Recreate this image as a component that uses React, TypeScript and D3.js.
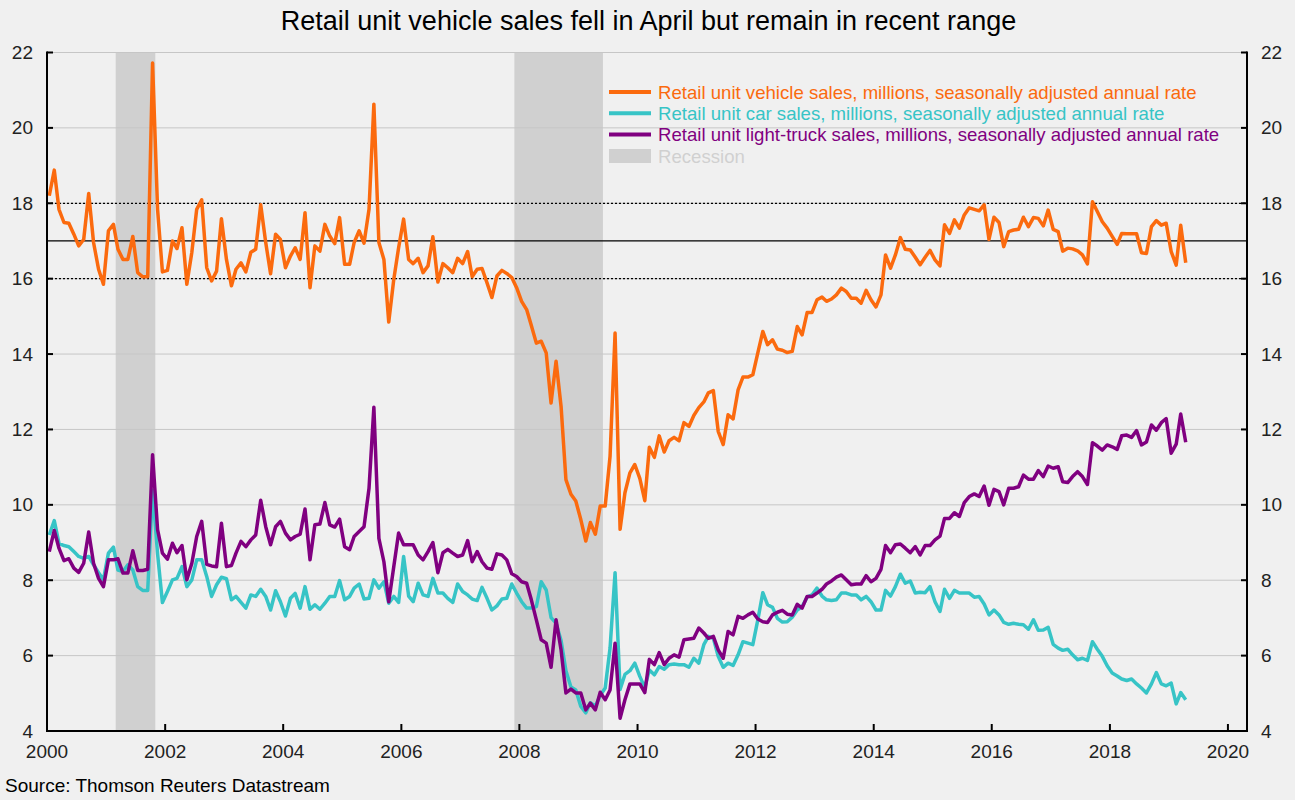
import React from "react";
import * as d3 from "d3";

// ---------- DATA (monthly, Jan 2000 – Apr 2019, millions SAAR) ----------
const START_YEAR = 2000;
const START_MONTH = 0;

const vehicleSales = [
  18.2, 18.88, 17.84, 17.49, 17.47, 17.18, 16.87, 17.04, 18.26, 16.96, 16.25, 15.85,
  17.27, 17.44, 16.78, 16.51, 16.51, 17.12, 16.16, 16.05, 16.05, 21.72, 17.84, 16.18,
  16.22, 17.0, 16.8, 17.35, 15.85, 16.7, 17.84, 18.09, 16.29, 15.94, 16.2, 17.59,
  16.51, 15.81, 16.25, 16.42, 16.18, 16.7, 16.78, 17.96, 16.96, 16.13, 17.18, 17.04,
  16.29, 16.6, 16.82, 16.51, 17.75, 15.76, 16.87, 16.73, 17.44, 17.13, 16.93, 17.62,
  16.38, 16.38, 16.96, 17.27, 16.94, 17.84, 20.63, 16.96, 16.51, 14.85, 15.98, 16.82,
  17.58, 16.51, 16.4, 16.54, 16.16, 16.34, 17.11, 15.91, 16.4, 16.29, 16.16, 16.54,
  16.4, 16.72, 16.05, 16.25, 16.27, 15.89, 15.5, 16.07, 16.22, 16.14, 16.03, 15.76,
  15.4, 15.18, 14.76, 14.29, 14.34, 14.03, 12.7, 13.81, 12.61, 10.67, 10.28, 10.1,
  9.61, 9.04, 9.53, 9.22, 9.97, 9.97, 11.29, 14.56, 9.35, 10.32, 10.85, 11.07,
  10.7, 10.11, 11.53, 11.26, 11.83, 11.4, 11.7, 11.79, 11.7, 12.18, 12.08, 12.37,
  12.58, 12.73, 12.97, 13.03, 11.95, 11.6, 12.39, 12.28, 13.05, 13.39, 13.39, 13.45,
  14.03, 14.6, 14.25, 14.38, 14.13, 14.1, 14.04, 14.07, 14.73, 14.51, 15.1, 15.1,
  15.44, 15.51, 15.4, 15.46, 15.57, 15.75, 15.66, 15.48, 15.48, 15.35, 15.69, 15.44,
  15.25, 15.57, 16.63, 16.28, 16.63, 17.09, 16.78, 16.76, 16.57, 16.37, 16.57, 16.75,
  16.5, 16.34, 17.43, 17.2, 17.56, 17.34, 17.69, 17.88, 17.84, 17.8, 17.96, 17.04,
  17.63, 17.49, 16.85, 17.25, 17.29, 17.31, 17.63, 17.38, 17.62, 17.6, 17.4, 17.82,
  17.31, 17.25, 16.73, 16.81, 16.79, 16.74, 16.63, 16.39, 18.04, 17.78, 17.51, 17.34,
  17.12, 16.91, 17.2, 17.19, 17.19, 17.19, 16.69, 16.67, 17.38, 17.54, 17.42, 17.47,
  16.72, 16.36, 17.42, 16.42,
];

const carSales = [
  9.2, 9.58, 8.98, 8.92, 8.89, 8.76, 8.63, 8.58, 8.63, 8.41, 8.2, 8.01,
  8.72, 8.88, 8.27, 8.23, 8.41, 8.27, 7.83, 7.73, 7.73, 10.39, 8.7, 7.41,
  7.7, 8.01, 8.05, 8.36, 7.83, 8.01, 8.54, 8.54, 8.1, 7.57, 7.88, 8.08,
  8.04, 7.48, 7.57, 7.41, 7.26, 7.61, 7.57, 7.76, 7.57, 7.21, 7.72, 7.43,
  7.05, 7.52, 7.65, 7.26, 7.83, 7.23, 7.35, 7.23, 7.39, 7.57, 7.57, 7.99,
  7.48, 7.57, 7.79, 7.9, 7.5, 7.52, 8.01, 7.79, 7.96, 7.39, 7.57, 7.41,
  8.63, 7.58, 7.43, 7.92, 7.61, 7.57, 8.05, 7.66, 7.66, 7.52, 7.41, 7.9,
  7.7, 7.61, 7.5, 7.46, 7.81, 7.52, 7.21, 7.32, 7.5, 7.52, 7.9, 7.66,
  7.43, 7.26, 7.26, 7.3, 7.96, 7.74, 7.01, 6.86, 6.4, 5.6, 5.17, 5.09,
  4.65, 4.48, 4.75, 4.66, 4.94, 5.14, 6.2, 8.2, 5.1, 5.5, 5.6, 5.8,
  5.45, 5.15, 5.62, 5.49, 5.71, 5.64, 5.76, 5.78, 5.76, 5.76, 5.69, 5.93,
  5.8, 6.29, 6.51, 6.46, 5.98, 5.69, 5.8, 5.74, 6.02, 6.37, 6.33, 6.29,
  6.95, 7.67, 7.35, 7.28, 6.99, 6.89, 6.9, 7.02, 7.21, 7.3, 7.55, 7.61,
  7.79, 7.58, 7.48, 7.46, 7.48, 7.66, 7.66, 7.61, 7.61, 7.48, 7.57, 7.43,
  7.21, 7.21, 7.73, 7.58, 7.83, 8.16, 7.92, 7.98, 7.66, 7.68, 7.67, 7.83,
  7.43, 7.17, 7.76, 7.52, 7.73, 7.66, 7.66, 7.66, 7.55, 7.57, 7.37, 7.08,
  7.21, 7.08, 6.88, 6.83, 6.86, 6.83, 6.82, 6.7, 6.95, 6.67, 6.68, 6.75,
  6.3, 6.2, 6.14, 6.17, 6.02, 5.89, 5.93, 5.87, 6.37, 6.17, 5.98, 5.73,
  5.54, 5.46, 5.38, 5.34, 5.38, 5.25, 5.14, 5.01, 5.25, 5.55, 5.25, 5.2,
  5.27, 4.72, 5.02, 4.83,
];

const truckSales = [
  8.76, 9.32, 8.85, 8.52, 8.57, 8.32, 8.21, 8.45, 9.28, 8.45, 8.05, 7.83,
  8.54, 8.54, 8.57, 8.19, 8.19, 8.78, 8.26, 8.26, 8.29, 11.33, 9.34, 8.72,
  8.56, 8.98, 8.73, 8.92, 8.01, 8.45, 9.16, 9.56, 8.42, 8.38, 8.36, 9.51,
  8.36, 8.39, 8.72, 9.03, 8.89, 9.07, 9.2, 10.12, 9.42, 8.94, 9.42, 9.56,
  9.25, 9.07, 9.16, 9.22, 9.89, 8.54, 9.47, 9.49, 10.06, 9.47, 9.41, 9.62,
  8.89, 8.81, 9.16, 9.29, 9.42, 10.44, 12.59, 9.11, 8.49, 7.43, 8.36, 9.25,
  8.94, 8.94, 8.94, 8.67, 8.54, 8.76, 9.0, 8.2, 8.73, 8.82, 8.72, 8.63,
  8.67, 9.05, 8.49, 8.76, 8.49, 8.32, 8.29, 8.7, 8.67, 8.54, 8.17, 8.1,
  7.96, 7.92, 7.48, 6.95, 6.42, 6.33, 5.69, 6.95, 6.15, 5.01, 5.11, 5.01,
  5.01, 4.56, 4.74, 4.56, 5.03, 4.83, 5.09, 6.33, 4.34, 4.83, 5.25, 5.25,
  5.25, 5.02, 5.9, 5.76, 6.08, 5.76, 5.93, 6.02, 5.96, 6.42, 6.44, 6.46,
  6.73, 6.6, 6.46, 6.51, 6.15, 5.93, 6.64, 6.55, 7.04, 6.99, 7.08, 7.15,
  6.97, 6.9, 6.88, 7.08, 7.15, 7.2, 7.1, 7.08, 7.36, 7.26, 7.57, 7.57,
  7.66, 7.76, 7.9, 7.98, 8.08, 8.14, 8.01, 7.88, 7.9, 7.9, 8.12, 7.96,
  8.05, 8.29, 8.92, 8.73, 8.94, 8.96, 8.85, 8.73, 8.89, 8.67, 8.92, 8.92,
  9.07, 9.17, 9.64, 9.64, 9.79, 9.69, 10.06, 10.22, 10.29, 10.22, 10.5, 9.99,
  10.41, 10.35, 10.0, 10.44, 10.44, 10.48, 10.79, 10.68, 10.68, 10.91, 10.75, 11.03,
  10.97, 11.01, 10.61, 10.59, 10.75, 10.88, 10.75, 10.54, 11.65, 11.56, 11.45, 11.59,
  11.54, 11.47, 11.83, 11.85, 11.79, 11.97, 11.59, 11.67, 12.12, 11.98, 12.18, 12.29,
  11.37, 11.61, 12.41, 11.66,
];

const yTicks = [4, 6, 8, 10, 12, 14, 16, 18, 20, 22];
const xTickYears = [2000, 2002, 2004, 2006, 2008, 2010, 2012, 2014, 2016, 2018, 2020];
const recessions: [string, string][] = [
  ["2001-03-01", "2001-11-01"],
  ["2007-12-01", "2009-06-01"],
];
const refLines = [
  { v: 18, dash: "2,2" },
  { v: 17, dash: "" },
  { v: 16, dash: "2,2" },
];

const seriesInfo = [
  { label: "Retail unit vehicle sales, millions, seasonally adjusted annual rate", values: vehicleSales, color: "#fb6a0e" },
  { label: "Retail unit car sales, millions, seasonally adjusted annual rate", values: carSales, color: "#37c4c6" },
  { label: "Retail unit light-truck sales, millions, seasonally adjusted annual rate", values: truckSales, color: "#800080" },
];

const TITLE = "Retail unit vehicle sales fell in April but remain in recent range";
const SOURCE = "Source: Thomson Reuters Datastream";

// ---------- LAYOUT ----------
const W = 1295;
const H = 800;
const L = 47;
const R = 1247;
const T = 52.5;
const B = 731;
const FONT = "'Liberation Sans', Arial, sans-serif";

export default function App() {
  const x = d3
    .scaleTime()
    .domain([new Date(2000, 0, 1), new Date(2020, 3, 28)])
    .range([L, R]);
  const y = d3.scaleLinear().domain([4, 22]).range([B, T]);

  const date = (i: number) => new Date(START_YEAR, START_MONTH + i, 15);
  const line = d3
    .line<number>()
    .x((_, i) => x(date(i)))
    .y((d) => y(d));

  return (
    <div style={{ position: "absolute", left: 0, top: 0, width: W, height: H }}>
      <svg width={W} height={H} style={{ display: "block", background: "#f0f0f0" }} fontFamily={FONT}>
        <rect x={0} y={0} width={W} height={H} fill="#f0f0f0" />
        {/* recessions */}
        {recessions.map(([a, b], i) => {
          const x0 = x(new Date(a + "T00:00:00"));
          const x1 = x(new Date(b + "T00:00:00"));
          return <rect key={i} x={x0} y={T} width={x1 - x0} height={B - T} fill="#d0d0d0" />;
        })}
        {/* grid */}
        {yTicks.filter((v) => v !== 4).map((v) => (
          <line key={v} x1={L} x2={R} y1={y(v)} y2={y(v)} stroke="#c6c6c6" strokeWidth={1} />
        ))}
        {refLines.map((r) => (
          <line key={r.v} x1={L} x2={R} y1={y(r.v)} y2={y(r.v)} stroke="#000" strokeWidth={1.3}
            strokeDasharray={r.dash || undefined} />
        ))}
        {/* series */}
        {seriesInfo.map((s) => (
          <path key={s.label} d={line(s.values) || ""} fill="none" stroke={s.color} strokeWidth={3.5}
            strokeLinejoin="round" />
        ))}
        {/* axes */}
        <line x1={L} x2={L} y1={T - 1} y2={B + 1} stroke="#000" strokeWidth={2} />
        <line x1={R} x2={R} y1={T - 1} y2={B + 1} stroke="#000" strokeWidth={2} />
        <line x1={L} x2={R} y1={B} y2={B} stroke="#000" strokeWidth={2} />
        {yTicks.map((v) => (
          <g key={v}>
            <line x1={L} x2={L + 6} y1={y(v)} y2={y(v)} stroke="#000" strokeWidth={2} />
            <line x1={R - 6} x2={R} y1={y(v)} y2={y(v)} stroke="#000" strokeWidth={2} />
            <text x={33} y={y(v) + 6.5} textAnchor="end" fontSize={19} fill="#222">{v}</text>
            <text x={1261} y={y(v) + 6.5} textAnchor="start" fontSize={19} fill="#222">{v}</text>
          </g>
        ))}
        {xTickYears.map((yr) => {
          const xx = x(new Date(yr, 0, 1));
          return (
            <g key={yr}>
              <line x1={xx} x2={xx} y1={B} y2={B - 7} stroke="#000" strokeWidth={2} />
              <text x={xx} y={757.5} textAnchor="middle" fontSize={19} fill="#222">{yr}</text>
            </g>
          );
        })}
        {/* legend */}
        {seriesInfo.map((s, i) => {
          const cy = 92 + i * 21.3;
          return (
            <g key={s.label}>
              <line x1={609} x2={651} y1={cy} y2={cy} stroke={s.color} strokeWidth={4} />
              <text x={658} y={cy + 6.5} fontSize={18.6} fill={s.color}>{s.label}</text>
            </g>
          );
        })}
        <rect x={609} y={149} width={42} height={14} fill="#d0d0d0" />
        <text x={658} y={162.5} fontSize={18.6} fill="#d0d0d0">Recession</text>
        {/* title & source */}
        <text x={648.5} y={30} textAnchor="middle" fontSize={27} fill="#000">{TITLE}</text>
        <text x={5} y={792} fontSize={19} fill="#000">{SOURCE}</text>
      </svg>
    </div>
  );
}
